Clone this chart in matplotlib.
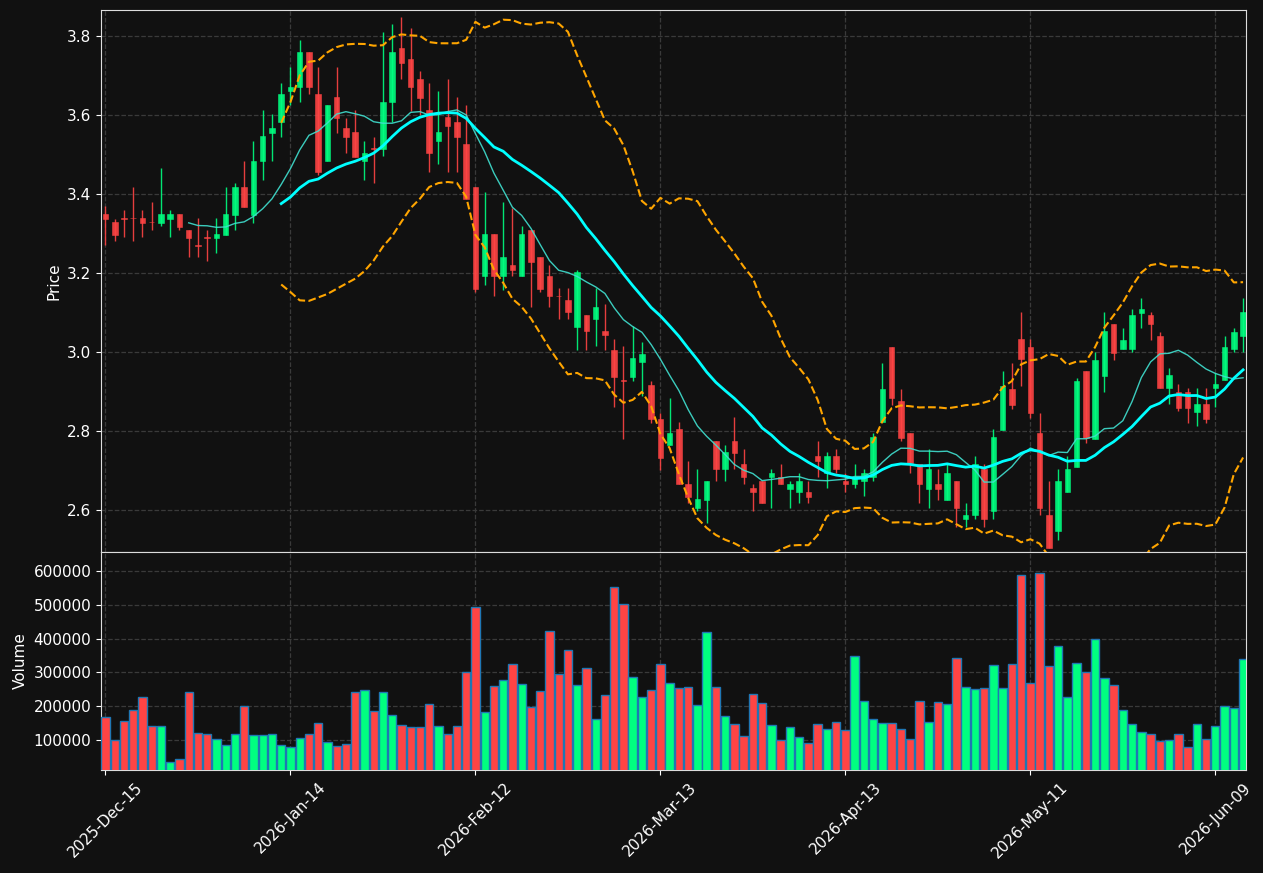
import numpy as np
import pandas as pd
import matplotlib
matplotlib.use("Agg")
import matplotlib.pyplot as plt

# daily OHLC + volume (124 trading days)
opens = [3.349, 3.329, 3.340, 3.340, 3.340, 3.330, 3.328, 3.338, 3.349, 3.309,
         3.271, 3.291, 3.289, 3.297, 3.348, 3.418, 3.348, 3.484, 3.555, 3.583,
         3.661, 3.670, 3.761, 3.654, 3.484, 3.645, 3.567, 3.556, 3.484, 3.515,
         3.514, 3.632, 3.771, 3.743, 3.692, 3.614, 3.534, 3.594, 3.583, 3.526,
         3.417, 3.192, 3.299, 3.192, 3.220, 3.192, 3.308, 3.240, 3.192, 3.142,
         3.132, 3.064, 3.093, 3.084, 3.053, 3.005, 2.929, 2.937, 2.974, 2.917,
         2.830, 2.766, 2.805, 2.666, 2.606, 2.626, 2.774, 2.705, 2.774, 2.717,
         2.656, 2.675, 2.685, 2.685, 2.654, 2.646, 2.646, 2.736, 2.695, 2.736,
         2.675, 2.666, 2.675, 2.685, 2.823, 3.014, 2.875, 2.795, 2.716, 2.654,
         2.666, 2.626, 2.675, 2.577, 2.588, 2.705, 2.597, 2.803, 2.906, 3.034,
         3.014, 2.795, 2.588, 2.546, 2.646, 2.710, 2.952, 2.780, 2.939, 3.072,
         3.009, 3.009, 3.100, 3.093, 3.042, 2.909, 2.900, 2.900, 2.849, 2.869,
         2.910, 2.930, 3.009, 3.040]
highs = [3.369, 3.338, 3.359, 3.417, 3.359, 3.379, 3.467, 3.359, 3.349, 3.309,
         3.339, 3.308, 3.339, 3.417, 3.427, 3.485, 3.535, 3.613, 3.604, 3.682,
         3.722, 3.789, 3.761, 3.722, 3.625, 3.722, 3.592, 3.612, 3.535, 3.545,
         3.810, 3.831, 3.848, 3.820, 3.711, 3.682, 3.661, 3.691, 3.645, 3.625,
         3.417, 3.406, 3.299, 3.379, 3.364, 3.319, 3.308, 3.240, 3.220, 3.163,
         3.163, 3.209, 3.093, 3.163, 3.122, 3.034, 3.015, 3.065, 3.025, 2.928,
         2.847, 2.885, 2.823, 2.724, 2.704, 2.675, 2.774, 2.766, 2.835, 2.755,
         2.666, 2.675, 2.705, 2.716, 2.675, 2.695, 2.675, 2.774, 2.746, 2.755,
         2.695, 2.716, 2.705, 2.795, 2.973, 3.014, 2.906, 2.795, 2.716, 2.755,
         2.705, 2.716, 2.675, 2.617, 2.736, 2.716, 2.805, 2.952, 2.973, 3.101,
         3.034, 2.845, 2.675, 2.705, 2.736, 2.935, 2.952, 3.001, 3.101, 3.072,
         3.062, 3.110, 3.138, 3.101, 3.051, 2.961, 2.920, 2.910, 2.910, 2.910,
         2.948, 3.040, 3.062, 3.138]
lows = [3.270, 3.281, 3.291, 3.281, 3.291, 3.308, 3.319, 3.291, 3.309, 3.240,
        3.240, 3.230, 3.250, 3.297, 3.308, 3.368, 3.328, 3.437, 3.485, 3.545,
        3.625, 3.634, 3.654, 3.448, 3.484, 3.555, 3.505, 3.493, 3.437, 3.427,
        3.496, 3.583, 3.691, 3.610, 3.601, 3.456, 3.477, 3.456, 3.456, 3.388,
        3.152, 3.171, 3.143, 3.157, 3.192, 3.192, 3.113, 3.152, 3.113, 3.084,
        3.084, 3.005, 3.005, 3.015, 3.005, 2.860, 2.780, 2.928, 2.888, 2.821,
        2.701, 2.766, 2.666, 2.619, 2.597, 2.567, 2.674, 2.674, 2.705, 2.666,
        2.597, 2.617, 2.606, 2.666, 2.606, 2.617, 2.617, 2.685, 2.656, 2.695,
        2.646, 2.656, 2.637, 2.675, 2.823, 2.865, 2.774, 2.695, 2.617, 2.606,
        2.626, 2.626, 2.558, 2.558, 2.577, 2.558, 2.577, 2.803, 2.856, 2.913,
        2.834, 2.588, 2.505, 2.525, 2.646, 2.710, 2.771, 2.780, 2.900, 2.980,
        3.009, 3.000, 3.062, 3.031, 2.909, 2.869, 2.850, 2.821, 2.812, 2.821,
        2.860, 2.930, 3.000, 3.000]
closes = [3.337, 3.297, 3.338, 3.339, 3.328, 3.329, 3.349, 3.349, 3.318, 3.289,
          3.269, 3.290, 3.299, 3.349, 3.418, 3.368, 3.485, 3.546, 3.567, 3.654,
          3.671, 3.761, 3.670, 3.456, 3.625, 3.592, 3.545, 3.493, 3.505, 3.514,
          3.634, 3.761, 3.731, 3.670, 3.643, 3.505, 3.556, 3.572, 3.545, 3.388,
          3.161, 3.299, 3.192, 3.240, 3.209, 3.299, 3.229, 3.161, 3.141, 3.141,
          3.102, 3.202, 3.053, 3.114, 3.043, 2.937, 2.928, 2.986, 2.996, 2.830,
          2.731, 2.795, 2.666, 2.634, 2.628, 2.675, 2.705, 2.746, 2.745, 2.685,
          2.646, 2.617, 2.695, 2.666, 2.666, 2.675, 2.634, 2.724, 2.736, 2.705,
          2.666, 2.685, 2.695, 2.784, 2.906, 2.884, 2.783, 2.720, 2.666, 2.705,
          2.654, 2.695, 2.606, 2.588, 2.716, 2.577, 2.784, 2.913, 2.865, 2.983,
          2.845, 2.606, 2.505, 2.675, 2.705, 2.926, 2.783, 2.981, 3.053, 2.999,
          3.031, 3.093, 3.110, 3.071, 2.909, 2.941, 2.859, 2.859, 2.869, 2.830,
          2.920, 3.012, 3.051, 3.101]
volumes = [167200, 99000, 155300, 188000, 226500, 140500, 140500, 33800, 42700, 241300,
           119800, 116800, 102000, 84200, 116800, 199800, 113800, 113800, 116800, 84200,
           78300, 104900, 116800, 149400, 93100, 81200, 87200, 241300, 247200, 185000,
           241300, 173100, 143500, 137500, 137500, 205700, 140500, 116800, 140500, 300600,
           493300, 182000, 259100, 276900, 324300, 265000, 196800, 244300, 422100, 294700,
           365800, 262000, 312400, 161300, 232400, 552600, 502200, 285800, 226500, 247200,
           324300, 268000, 253200, 256100, 202800, 419200, 256100, 170200, 146400, 110900,
           235400, 208700, 143500, 99000, 137500, 107900, 90100, 146400, 131600, 152400,
           128700, 348000, 214600, 161300, 149400, 149400, 131600, 102000, 214600, 152400,
           211700, 205700, 342100, 256100, 250200, 253200, 321300, 253200, 324300, 588100,
           268000, 594100, 318400, 377700, 226500, 327300, 300600, 398400, 282800, 262000,
           187900, 146400, 122700, 116800, 96000, 99000, 116800, 78300, 146400, 102000,
           140500, 199800, 193900, 339100]

tick_labels = ['2025-Dec-15', '2026-Jan-14', '2026-Feb-12', '2026-Mar-13',
               '2026-Apr-13', '2026-May-11', '2026-Jun-09']

df = pd.DataFrame({'Open': opens, 'High': highs, 'Low': lows,
                   'Close': closes, 'Volume': volumes})
x = np.arange(len(df))

up_col = '#00ff80'
down_col = '#ff4444'
bg = '#111111'

df['mav10'] = df['Close'].rolling(10).mean()
df['mav20'] = df['Close'].rolling(20).mean()
std20 = df['Close'].rolling(20).std(ddof=0)
df['bb_up'] = df['mav20'] + 2 * std20
df['bb_lo'] = df['mav20'] - 2 * std20

up = df['Close'] >= df['Open']
colors = np.where(up, up_col, down_col)

fig = plt.figure(figsize=(12.63, 8.73), dpi=100, facecolor=bg)
ax = fig.add_axes([0.0800, 0.3677, 0.9065, 0.6208], facecolor=bg)
axv = fig.add_axes([0.0800, 0.1180, 0.9065, 0.2497], facecolor=bg, sharex=ax)

# candles
ax.vlines(x, df['Low'], df['High'], colors=colors, linewidth=1, alpha=0.9, zorder=2)
body = (df['Close'] - df['Open']).abs().clip(lower=0.0015)
ax.bar(x, body, bottom=df[['Open', 'Close']].min(axis=1), width=0.6,
       color=colors, edgecolor=colors, linewidth=0.4, alpha=0.9, zorder=3)

# moving averages + bollinger bands
ax.plot(x, df['mav10'], color='#40e0d0', linewidth=1, alpha=0.9, zorder=4)
ax.plot(x, df['mav20'], color='#00ffff', linewidth=2, zorder=4)
ax.plot(x, df['bb_up'], color='#ffa500', linewidth=1.5, linestyle='--', zorder=4)
ax.plot(x, df['bb_lo'], color='#ffa500', linewidth=1.5, linestyle='--', zorder=4)

# volume
axv.bar(x, df['Volume'], width=0.9, color=colors, edgecolor='#1f77b4',
        linewidth=1, zorder=3)

ax.set_ylim(2.494, 3.866)
axv.set_ylim(10700, 656500)
ax.set_xlim(-0.48, 123.31)

ticks = np.arange(0, len(df), 20)
axv.set_xticks(ticks)
axv.set_xticklabels(tick_labels, rotation=45, ha='center')
ax.tick_params(labelbottom=False)
ax.set_yticks([2.6, 2.8, 3.0, 3.2, 3.4, 3.6, 3.8])
ax.set_yticklabels(['2.6', '2.8', '3.0', '3.2', '3.4', '3.6', '3.8'])
axv.set_yticks([100000, 200000, 300000, 400000, 500000, 600000])
axv.set_yticklabels(['100000', '200000', '300000', '400000', '500000', '600000'])

for a in (ax, axv):
    a.grid(True, linestyle='--', color='#3a3a3a', linewidth=0.9)
    a.set_axisbelow(True)
    for s in a.spines.values():
        s.set_color('#dddddd')
    a.tick_params(colors='white', labelsize=11)

ax.set_ylabel('Price', color='white', fontsize=11)
axv.set_ylabel('Volume', color='white', fontsize=11)

fig.savefig('out.png', dpi=100, facecolor=bg)
